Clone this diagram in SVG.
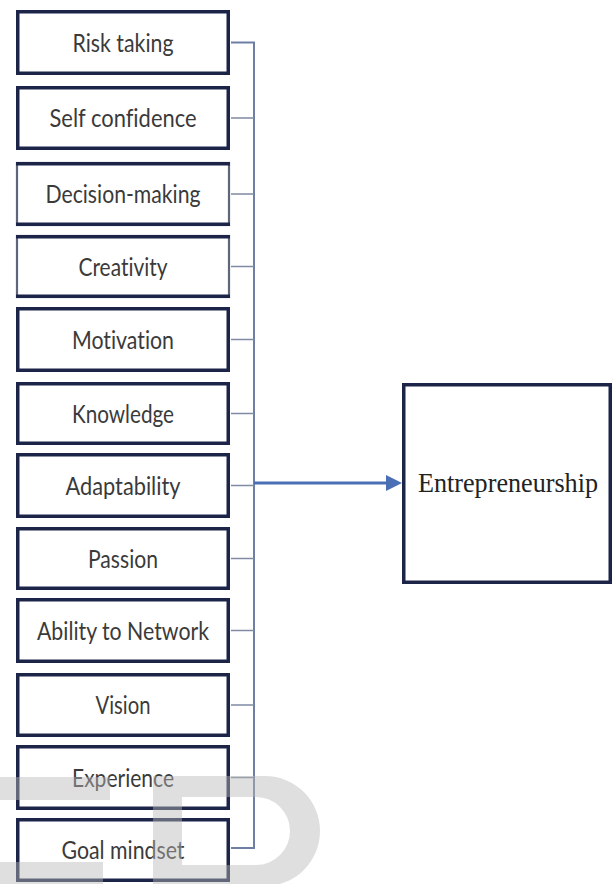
<svg xmlns="http://www.w3.org/2000/svg" width="615" height="884" viewBox="0 0 615 884">
  <style>
    .box { fill: #ffffff; stroke: #1c2548; stroke-width: 3.5; }
    .boxalt { fill: #ffffff; stroke: #5f667c; stroke-width: 2.2; }
    .edge { stroke: #1c2548; stroke-width: 3.5; }
    .lbl { font-family: "Lato", "Liberation Sans", sans-serif; font-size: 21px; fill: #3a3a3a; text-anchor: middle; font-variant-ligatures: none; }
    .main { font-family: "Liberation Serif", "DejaVu Serif", serif; font-size: 26px; fill: #222222; text-anchor: middle; }
    .stub { fill: none; stroke: #7f8aa3; stroke-width: 1.6; }
    .bus { fill: none; stroke: #6f7fa3; stroke-width: 2; }
    .flow { stroke: #4a6fb5; stroke-width: 3; }
    .wm { fill: #b8b8b8; fill-opacity: 0.45; fill-rule: evenodd; }
  </style>

  <rect width="615" height="884" fill="#ffffff"/>

  <!-- connectors: side stubs, collecting bus and the arrow -->
  <g id="connectors">
    <path class="bus" d="M231,42.5 H254 V848 H231"/>
    <path class="stub" d="M231,118 H254 M231,194 H254 M231,266.5 H254 M231,339.5 H254 M231,413.5 H254 M231,485.5 H254 M231,558.5 H254 M231,630.5 H254 M231,705 H254 M231,777.5 H254"/>
    <line class="flow" x1="254" y1="483" x2="390" y2="483"/>
    <polygon points="386,475 402,483 386,491" fill="#4a6fb5"/>
  </g>

  <!-- factor boxes -->
  <g id="risk-taking">
    <rect class="box" x="17.75" y="11.75" width="210.5" height="61.5"/>
    <text class="lbl" transform="translate(123,51.5) scale(1,1.2)" textLength="101" lengthAdjust="spacingAndGlyphs">Risk taking</text>
  </g>
  <g id="self-confidence">
    <rect class="box" x="17.75" y="87.75" width="210.5" height="60.5"/>
    <text class="lbl" transform="translate(123,127) scale(1,1.2)" textLength="147" lengthAdjust="spacingAndGlyphs">Self confidence</text>
  </g>
  <g id="decision-making">
    <rect class="boxalt" x="17" y="163" width="212" height="62"/>
    <line class="edge" x1="16" y1="163.75" x2="230" y2="163.75"/>
    <line class="edge" x1="16" y1="224.25" x2="230" y2="224.25"/>
    <text class="lbl" transform="translate(123,203) scale(1,1.2)" textLength="155" lengthAdjust="spacingAndGlyphs">Decision-making</text>
  </g>
  <g id="creativity">
    <rect class="boxalt" x="17" y="236" width="212" height="61"/>
    <line class="edge" x1="16" y1="236.75" x2="230" y2="236.75"/>
    <line class="edge" x1="16" y1="296.25" x2="230" y2="296.25"/>
    <text class="lbl" transform="translate(123,275.5) scale(1,1.2)" textLength="89" lengthAdjust="spacingAndGlyphs">Creativity</text>
  </g>
  <g id="motivation">
    <rect class="box" x="17.75" y="308.75" width="210.5" height="61.5"/>
    <text class="lbl" transform="translate(123,348.5) scale(1,1.2)" textLength="102" lengthAdjust="spacingAndGlyphs">Motivation</text>
  </g>
  <g id="knowledge">
    <rect class="box" x="17.75" y="383.75" width="210.5" height="59.5"/>
    <text class="lbl" transform="translate(123,422.5) scale(1,1.2)" textLength="102" lengthAdjust="spacingAndGlyphs">Knowledge</text>
  </g>
  <g id="adaptability">
    <rect class="box" x="17.75" y="454.75" width="210.5" height="61.5"/>
    <text class="lbl" transform="translate(123,494.5) scale(1,1.2)" textLength="115" lengthAdjust="spacingAndGlyphs">Adaptability</text>
  </g>
  <g id="passion">
    <rect class="box" x="17.75" y="528.75" width="210.5" height="59.5"/>
    <text class="lbl" transform="translate(123,567.5) scale(1,1.2)" textLength="70" lengthAdjust="spacingAndGlyphs">Passion</text>
  </g>
  <g id="ability-to-network">
    <rect class="box" x="17.75" y="599.75" width="210.5" height="61.5"/>
    <text class="lbl" transform="translate(123,639.5) scale(1,1.2)" textLength="172" lengthAdjust="spacingAndGlyphs">Ability to Network</text>
  </g>
  <g id="vision">
    <rect class="box" x="17.75" y="674.75" width="210.5" height="60.5"/>
    <text class="lbl" transform="translate(123,714) scale(1,1.2)" textLength="55" lengthAdjust="spacingAndGlyphs">Vision</text>
  </g>
  <g id="experience">
    <rect class="box" x="17.75" y="746.75" width="210.5" height="61.5"/>
    <text class="lbl" transform="translate(123,786.5) scale(1,1.2)" textLength="102" lengthAdjust="spacingAndGlyphs">Experience</text>
  </g>
  <g id="goal-mindset">
    <rect class="box" x="17.75" y="819.75" width="210.5" height="60.5"/>
    <text class="lbl" transform="translate(123,859) scale(1,1.2)" textLength="123" lengthAdjust="spacingAndGlyphs">Goal mindset</text>
  </g>

  <!-- outcome box -->
  <g id="entrepreneurship">
    <rect class="box" x="403.75" y="384.75" width="206.5" height="197.5"/>
    <text class="main" transform="translate(508,492) scale(1,1.08)" textLength="180" lengthAdjust="spacingAndGlyphs">Entrepreneurship</text>
  </g>

  <!-- faint watermark letters along the bottom edge -->
  <g id="watermark">
    <rect class="wm" x="0" y="777" width="110" height="23"/>
    <rect class="wm" x="0" y="862" width="103" height="22"/>
    <path class="wm" d="M153,776 H265 A55,55 0 0 1 320,831 A55,55 0 0 1 265,886 H153 Z M182,797 H256 A34,34 0 0 1 290,831 A34,34 0 0 1 256,865 H182 Z"/>
  </g>
</svg>
